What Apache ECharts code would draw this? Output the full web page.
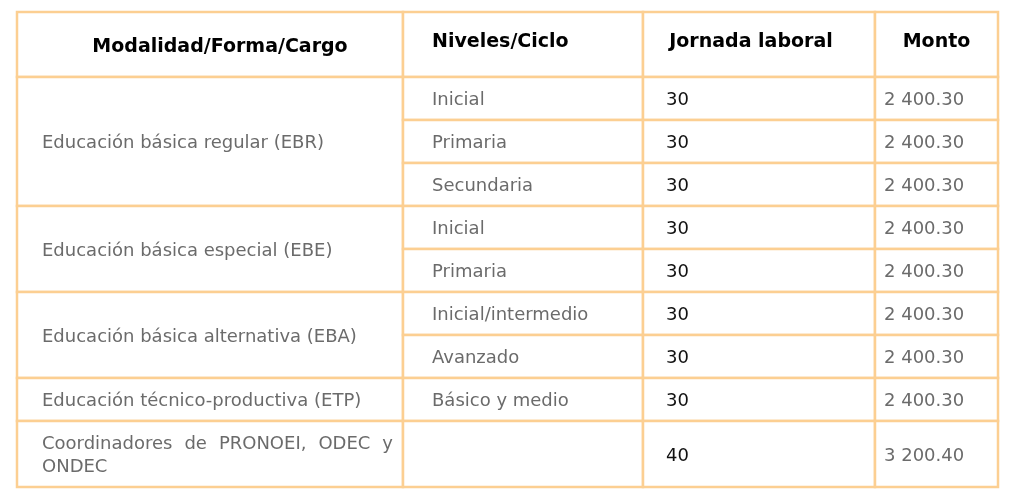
<!DOCTYPE html>
<html>
<head>
<meta charset="utf-8">
<script src="https://cdn.jsdelivr.net/npm/echarts@6/dist/echarts.min.js"></script>
<style>
  html, body { margin: 0; padding: 0; background: #ffffff; }
  #tabla { width: 1024px; height: 502px; }
</style>
</head>
<body>
<div id="tabla"></div>
<script>
// datos de la tabla
var headers = ['Modalidad/Forma/Cargo', 'Niveles/Ciclo', 'Jornada laboral', 'Monto']
var modalidades = [
  'Educación básica regular (EBR)',
  'Educación básica especial (EBE)',
  'Educación básica alternativa (EBA)',
  'Educación técnico-productiva (ETP)',
  'Coordinadores de PRONOEI, ODEC y ONDEC'
]
var filasPorModalidad = [3, 2, 2, 1, 1]
var niveles = ['Inicial', 'Primaria', 'Secundaria', 'Inicial', 'Primaria', 'Inicial/intermedio', 'Avanzado', 'Básico y medio', '']
var jornada = [30, 30, 30, 30, 30, 30, 30, 30, 40]
var monto = ['2 400.30', '2 400.30', '2 400.30', '2 400.30', '2 400.30', '2 400.30', '2 400.30', '2 400.30', '3 200.40']

// layout (px dentro de la tabla)
var colWidths = [386, 240, 232, 123]
var headerHeight = 65
var rowHeights = [43, 43, 43, 43, 43, 43, 43, 43, 66]
var headerShift = [[10, 3], [0, -2], [-8, -2], [0, -2]]
var borderColor = '#fccf92'
var font = '"DejaVu Sans", Verdana, sans-serif'

var colEdges = [0]
colWidths.forEach(function (w, i) { colEdges.push(colEdges[i] + w) })
var rowEdges = [headerHeight]
rowHeights.forEach(function (h, i) { rowEdges.push(rowEdges[i] + h) })
var tableW = colEdges[colEdges.length - 1]
var tableH = rowEdges[rowEdges.length - 1]

// celdas: [x0, x1, y0, y1, texto, tipo]
var cells = []
headers.forEach(function (t, c) {
  cells.push([colEdges[c], colEdges[c + 1], 0, headerHeight, t, 'h' + c])
})
var r = 0
modalidades.forEach(function (t, i) {
  var n = filasPorModalidad[i]
  cells.push([colEdges[0], colEdges[1], rowEdges[r], rowEdges[r + n], t, i === modalidades.length - 1 ? 'just' : 'mod'])
  r += n
})
niveles.forEach(function (t, i) {
  cells.push([colEdges[1], colEdges[2], rowEdges[i], rowEdges[i + 1], t, 'niv'])
})
jornada.forEach(function (v, i) {
  cells.push([colEdges[2], colEdges[3], rowEdges[i], rowEdges[i + 1], String(v), 'jor'])
})
monto.forEach(function (t, i) {
  cells.push([colEdges[3], colEdges[4], rowEdges[i], rowEdges[i + 1], t, 'mon'])
})

var ctx = document.createElement('canvas').getContext('2d')
function medir (txt, f) {
  ctx.font = f
  return ctx.measureText(txt).width
}

var bodyFont = '18px ' + font
var headFont = 'bold 19px ' + font

function renderCell (params, api) {
  var p0 = api.coord([api.value(0), api.value(2)])
  var p1 = api.coord([api.value(1), api.value(3)])
  var txt = cells[params.dataIndex][4]
  var tipo = cells[params.dataIndex][5]
  var x = p0[0], y = p0[1], w = p1[0] - p0[0], h = p1[1] - p0[1]
  var children = [{
    type: 'rect',
    shape: { x: x, y: y, width: w, height: h },
    style: { fill: '#ffffff', stroke: borderColor, lineWidth: 2.5 }
  }]
  var cy = y + h / 2
  if (tipo.charAt(0) === 'h') {
    var c = +tipo.charAt(1)
    var tx = (c === 1 ? x + 29 : x + w / 2) + headerShift[c][0]
    children.push({
      type: 'text',
      style: { x: tx, y: cy + headerShift[c][1], text: txt, font: headFont, fill: '#000', align: c === 1 ? 'left' : 'center', verticalAlign: 'middle' }
    })
  } else if (tipo === 'just') {
    // texto justificado en dos líneas
    var padL = 25, padR = 10
    var maxW = w - padL - padR
    var words = txt.split(' ')
    var line1 = [], acc = 0
    while (words.length) {
      var ww = medir((line1.length ? ' ' : '') + words[0], bodyFont)
      if (acc + ww > maxW) break
      acc += ww
      line1.push(words.shift())
    }
    var wordsW = line1.reduce(function (s, wd) { return s + medir(wd, bodyFont) }, 0)
    var gap = (maxW - wordsW) / (line1.length - 1)
    var xx = x + padL
    line1.forEach(function (wd) {
      children.push({ type: 'text', style: { x: xx, y: cy - 10, text: wd, font: bodyFont, fill: '#6b6b6b', verticalAlign: 'middle' } })
      xx += medir(wd, bodyFont) + gap
    })
    children.push({ type: 'text', style: { x: x + padL, y: cy + 13, text: words.join(' '), font: bodyFont, fill: '#6b6b6b', verticalAlign: 'middle' } })
  } else {
    var pad = { mod: 25, niv: 29, jor: 23, mon: 9 }[tipo]
    children.push({
      type: 'text',
      style: { x: x + pad, y: cy + 2, text: txt, font: bodyFont, fill: tipo === 'jor' ? '#111' : '#6b6b6b', verticalAlign: 'middle' }
    })
  }
  return { type: 'group', children: children }
}

var chart = echarts.init(document.getElementById('tabla'))
chart.setOption({
  animation: false,
  backgroundColor: '#ffffff',
  grid: { left: 17, top: 12, width: tableW, height: tableH },
  xAxis: { type: 'value', min: 0, max: tableW, show: false },
  yAxis: { type: 'value', min: 0, max: tableH, inverse: true, show: false },
  series: [{
    type: 'custom',
    coordinateSystem: 'cartesian2d',
    renderItem: renderCell,
    encode: { x: [0, 1], y: [2, 3] },
    data: cells.map(function (c) { return c.slice(0, 4) }),
    silent: true
  }]
})
</script>
</body>
</html>
